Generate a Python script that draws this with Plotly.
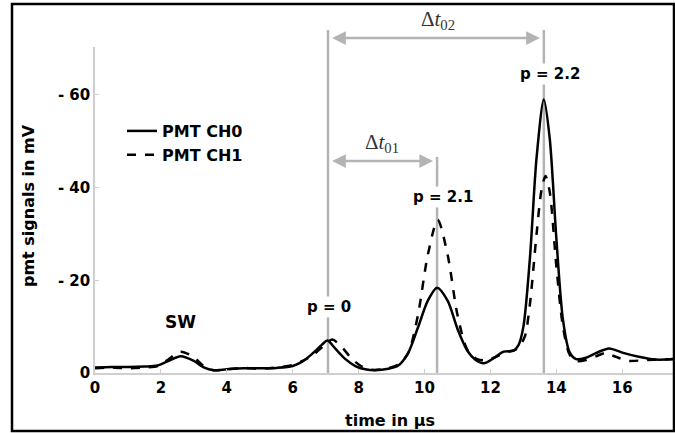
import plotly.graph_objects as go

# ---- data ----
t_ch0 = [0.0, 0.5, 1.0, 1.5, 1.9, 2.2, 2.6, 3.0, 3.3, 3.6, 4.0, 4.5, 5.0, 5.5, 6.0, 6.3, 6.6, 6.9, 7.05,
         7.3, 7.6, 7.9, 8.2, 8.5, 8.9, 9.2, 9.5, 9.8, 10.1, 10.38, 10.7, 11.0, 11.3, 11.55, 11.8, 12.1,
         12.4, 12.7, 12.85, 13.0, 13.2, 13.4, 13.62, 13.8, 14.0, 14.2, 14.4, 14.6, 14.9, 15.2, 15.6,
         16.0, 16.5, 17.0, 17.6]
v_ch0 = [1.2, 1.3, 1.3, 1.4, 1.6, 2.5, 3.6, 2.6, 1.2, 0.6, 0.8, 1.0, 1.0, 1.1, 1.5, 2.5, 4.2, 6.2, 7.0,
         5.2, 3.0, 1.5, 0.8, 0.6, 0.9, 1.6, 4.3, 9.8, 15.6, 18.4, 15.6, 9.5, 4.8, 2.8, 2.1, 3.2,
         4.6, 4.8, 6.0, 10.0, 25.0, 46.5, 59.0, 50.5, 29.0, 11.5, 4.5, 3.0, 3.3, 4.3, 5.3,
         4.4, 3.5, 2.9, 3.0]

t_ch1 = [0.0, 0.5, 1.0, 1.5, 1.9, 2.2, 2.6, 3.0, 3.3, 3.6, 4.0, 4.5, 5.0, 5.5, 6.0, 6.3, 6.6, 6.9, 7.2,
         7.5, 7.8, 8.1, 8.4, 8.8, 9.2, 9.5, 9.8, 10.1, 10.4, 10.7, 11.0, 11.3, 11.6, 11.9, 12.2,
         12.5, 12.75, 12.9, 13.05, 13.2, 13.4, 13.55, 13.67, 13.8, 14.0, 14.2, 14.4, 14.6, 14.9,
         15.2, 15.5, 15.8, 16.2, 16.7, 17.2, 17.6]
v_ch1 = [1.0, 1.2, 1.0, 1.2, 1.5, 2.8, 4.6, 3.4, 1.5, 0.6, 0.8, 1.1, 0.9, 1.2, 1.7, 2.6, 3.8, 5.6, 7.2,
         5.5, 3.0, 1.4, 0.7, 0.9, 1.8, 4.2, 12.5, 25.5, 33.0, 25.5, 12.5, 5.0, 3.0, 2.8, 3.6,
         4.5, 5.0, 6.0, 8.0, 15.0, 30.0, 39.5, 42.5, 39.0, 23.0, 10.0, 4.0, 2.6, 2.8,
         3.6, 4.3, 3.5, 2.6, 2.8, 2.9, 3.0]

series_names = ["PMT CH0", "PMT CH1"]
x_ticks = [0, 2, 4, 6, 8, 10, 12, 14, 16]
y_ticks = [0, 20, 40, 60]
y_tick_text = ["0", "- 20", "- 40", "- 60"]

marker_t = [7.07, 10.38, 13.62]          # vertical reference lines (µs)
marker_labels = ["p = 0", "p = 2.1", "p = 2.2"]

# ---- figure ----
W, H = 675, 433
L, R, T, B = 95, 0, 47, 60
pw, ph = W - L - R, H - T - B

def px_x(p):
    return (p - L) / pw

def px_y(p):
    return (H - B - p) / ph

BOLD = dict(family="DejaVu Sans, Arial, sans-serif", size=15, color="black", weight="bold")
GRAY = "#b4b4b4"

fig = go.Figure()
fig.add_trace(go.Scatter(x=t_ch0, y=v_ch0, mode="lines", name=series_names[0],
                         line=dict(color="black", width=2.5, shape="spline", smoothing=0.8)))
fig.add_trace(go.Scatter(x=t_ch1, y=v_ch1, mode="lines", name=series_names[1],
                         line=dict(color="black", width=2.5, dash="dash", shape="spline", smoothing=0.8)))

# vertical gray marker lines
tops = [px_y(30), px_y(157), px_y(30)]
for xv, top in zip(marker_t, tops):
    fig.add_shape(type="line", xref="x", yref="paper", x0=xv, x1=xv, y0=0, y1=top,
                  line=dict(color=GRAY, width=2.5), layer="below")

# peak labels
lab_pos = [(329, 307), (443, 197), (550, 74)]
for (lx, ly), txt in zip(lab_pos, marker_labels):
    fig.add_annotation(x=px_x(lx), y=px_y(ly), xref="paper", yref="paper", text=txt,
                       showarrow=False, font=dict(BOLD, size=15), bgcolor="white",
                       xanchor="center", yanchor="middle", borderpad=1)
fig.add_annotation(x=px_x(180), y=px_y(322), xref="paper", yref="paper", text="SW",
                   showarrow=False, font=dict(BOLD, size=17), xanchor="center", yanchor="middle")

# double arrows
def darrow(x0, x1, ypx):
    fig.add_annotation(x=x1, y=px_y(ypx), ax=x0, ay=0, xref="x", yref="paper",
                       axref="x", ayref="pixel", text="", showarrow=True,
                       arrowside="end+start", arrowhead=2, arrowsize=1.1, arrowwidth=2.5,
                       arrowcolor=GRAY)

darrow(marker_t[0] + 0.08, marker_t[2] - 0.12, 38)
darrow(marker_t[0] + 0.08, marker_t[1] - 0.12, 161)

SERIF = dict(family="Liberation Serif, Times New Roman, serif", size=21, color="#333333")
fig.add_annotation(x=px_x(438), y=px_y(20), xref="paper", yref="paper",
                   text="Δ<i>t</i><sub>02</sub>", showarrow=False, font=SERIF,
                   xanchor="center", yanchor="middle")
fig.add_annotation(x=px_x(382), y=px_y(143), xref="paper", yref="paper",
                   text="Δ<i>t</i><sub>01</sub>", showarrow=False, font=SERIF,
                   xanchor="center", yanchor="middle")

# axis titles
fig.add_annotation(x=px_x(28), y=px_y(206), xref="paper", yref="paper", text="pmt signals in mV",
                   textangle=-90, showarrow=False, font=dict(BOLD, size=16),
                   xanchor="center", yanchor="middle")
fig.add_annotation(x=px_x(390), y=px_y(420), xref="paper", yref="paper", text="time in µs",
                   showarrow=False, font=dict(BOLD, size=16), xanchor="center", yanchor="middle")

# outer frame
fig.add_shape(type="rect", xref="paper", yref="paper",
              x0=px_x(12), x1=px_x(674), y0=px_y(431), y1=px_y(4),
              line=dict(color="black", width=2.5), fillcolor="rgba(0,0,0,0)", layer="above")

fig.update_layout(
    width=W, height=H, margin=dict(l=L, r=R, t=T, b=B),
    paper_bgcolor="white", plot_bgcolor="white",
    showlegend=True,
    legend=dict(x=px_x(122), y=px_y(114), xanchor="left", yanchor="top",
                bgcolor="rgba(0,0,0,0)", font=dict(BOLD, size=16), tracegroupgap=0),
    xaxis=dict(range=[0, 17.6], tickvals=x_ticks, showgrid=False, zeroline=False,
               showline=True, linecolor="#cfcfcf", linewidth=1.5,
               ticks="inside", ticklen=4, tickcolor="#cfcfcf", tickfont=BOLD),
    yaxis=dict(range=[0, 70.3], tickvals=y_ticks, ticktext=y_tick_text, showgrid=False,
               zeroline=False, showline=True, linecolor="#cfcfcf", linewidth=1.5,
               ticks="inside", ticklen=4, tickcolor="#cfcfcf", tickfont=BOLD),
)

fig.write_html("out.html")
